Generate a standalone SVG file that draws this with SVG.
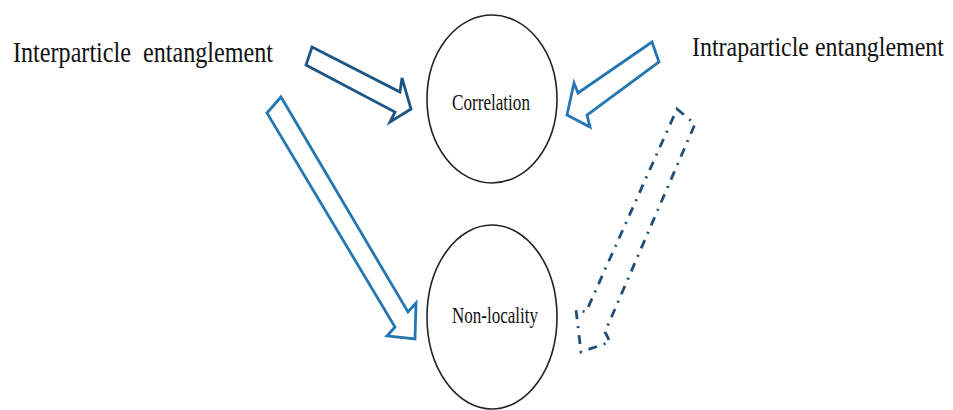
<svg xmlns="http://www.w3.org/2000/svg" width="953" height="410" viewBox="0 0 953 410">
<style>
.lbl{font-family:"Liberation Serif","Times New Roman",serif;fill:#111;}
.node{fill:#fff;stroke:#222;stroke-width:1.6;}
.arr{fill:none;stroke-width:2.8;stroke-linejoin:miter;}
.dark{stroke:#1d5585;}
.light{stroke:#2477b2;}
.dash{fill:none;stroke:#1f4e79;stroke-width:2.8;stroke-dasharray:9 7 2 7;stroke-linecap:butt;}
</style>
<rect width="953" height="410" fill="#fff"/>
<g id="interparticle">
<text class="lbl" x="13" y="62" font-size="29" textLength="260" lengthAdjust="spacingAndGlyphs" xml:space="preserve">Interparticle  entanglement</text>
</g>
<g id="intraparticle">
<text class="lbl" x="692" y="56" font-size="28" textLength="252" lengthAdjust="spacingAndGlyphs">Intraparticle entanglement</text>
</g>
<g id="correlation">
<ellipse class="node" cx="492" cy="99" rx="65" ry="84"/>
<text class="lbl" x="452" y="110" font-size="24" textLength="78" lengthAdjust="spacingAndGlyphs">Correlation</text>
</g>
<g id="nonlocality">
<ellipse class="node" cx="492" cy="317" rx="65" ry="92"/>
<text class="lbl" x="452" y="323" font-size="24" textLength="86" lengthAdjust="spacingAndGlyphs">Non-locality</text>
</g>
<g id="connectors">
<polygon class="arr dark" points="312,47 400,92 402,78 411,109 390,122 395,112 306,65"/>
<polygon class="arr light" points="652,42 578,93 574,83 567,115 590,127 587,115 659,62"/>
<polygon class="arr light" points="281,97 408,312 416,303 415,339 387,336 395,327 267,113"/>
<polygon class="dash" points="677,109 695,124 605,332 610,342 581,352 576,310 586,312"/>
</g>
</svg>
